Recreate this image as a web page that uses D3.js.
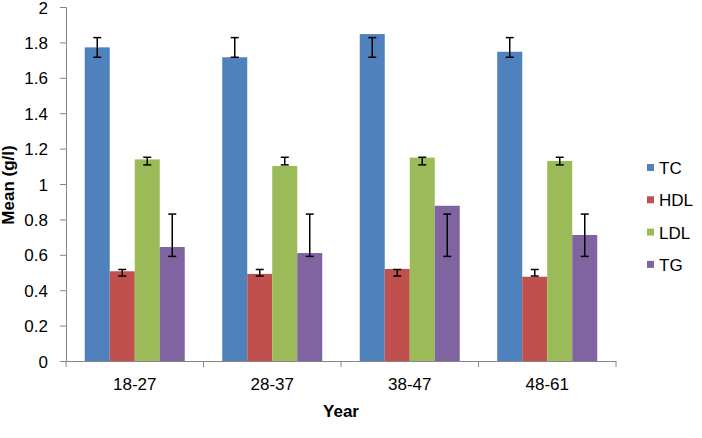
<!DOCTYPE html>
<html>
<head>
<meta charset="utf-8">
<script src="https://cdn.jsdelivr.net/npm/d3@7"></script>
<style>
  body { margin: 0; background: #fff; }
  svg { font-family: "Liberation Sans", Arial, sans-serif; }
</style>
</head>
<body>
<svg id="chart" width="702" height="438"></svg>
<script>
const categories = ['18-27', '28-37', '38-47', '48-61']
const seriesNames = ['TC', 'HDL', 'LDL', 'TG']
const colors = ['#4f81bd', '#c0504d', '#9bbb59', '#8064a2']

const tcValues = [1.772, 1.716, 1.847, 1.747]
const hdlValues = [0.507, 0.492, 0.520, 0.476]
const ldlValues = [1.139, 1.102, 1.149, 1.130]
const tgValues = [0.644, 0.610, 0.877, 0.712]

// error bar ranges as drawn (same in every age group)
const errLow = [1.716, 0.480, 1.108, 0.591]
const errHigh = [1.827, 0.517, 1.151, 0.830]

const yTicks = [0, 0.2, 0.4, 0.6, 0.8, 1, 1.2, 1.4, 1.6, 1.8, 2]

const values = [tcValues, hdlValues, ldlValues, tgValues]

const svg = d3.select('#chart')
const axisColor = '#868686'
const fontSize = 17

const x = d3.scaleBand().domain(categories).range([66, 616]).paddingInner(0).paddingOuter(0)
const x1 = d3.scaleBand().domain(seriesNames).range([0, x.bandwidth()]).paddingOuter(0.75).paddingInner(0)
const y = d3.scaleLinear().domain([0, 2]).range([361, 7])

// bars
categories.forEach((cat, ci) => {
  const g = svg.append('g').attr('transform', 'translate(' + x(cat) + ',0)')
  seriesNames.forEach((s, si) => {
    const v = values[si][ci]
    g.append('rect')
      .attr('x', x1(s))
      .attr('y', y(v))
      .attr('width', x1.bandwidth())
      .attr('height', y(0) - y(v))
      .attr('fill', colors[si])
    const cx = x1(s) + x1.bandwidth() / 2
    const eg = g.append('g').attr('stroke', '#000').attr('stroke-width', 1.5)
    eg.append('line').attr('x1', cx).attr('x2', cx).attr('y1', y(errLow[si])).attr('y2', y(errHigh[si]))
    eg.append('line').attr('x1', cx - 4).attr('x2', cx + 4).attr('y1', y(errLow[si])).attr('y2', y(errLow[si]))
    eg.append('line').attr('x1', cx - 4).attr('x2', cx + 4).attr('y1', y(errHigh[si])).attr('y2', y(errHigh[si]))
  })
})

// y axis
const yAxis = svg.append('g')
  .attr('transform', 'translate(66,0)')
  .call(d3.axisLeft(y).tickValues(yTicks).tickSize(6).tickPadding(12).tickFormat(d => String(d)))
yAxis.select('.domain').attr('stroke', axisColor)
yAxis.selectAll('.tick line').attr('stroke', axisColor)
yAxis.selectAll('text').attr('font-size', fontSize).attr('fill', '#000').attr('dy', '0.36em')
  .attr('font-family', '"Liberation Sans", Arial, sans-serif')

// x axis
const xAxis = svg.append('g')
  .attr('transform', 'translate(0,361)')
  .call(d3.axisBottom(x).tickSize(0).tickPadding(17).tickSizeOuter(0))
xAxis.select('.domain').attr('stroke', axisColor)
xAxis.selectAll('text').attr('font-size', fontSize).attr('fill', '#000')
  .attr('font-family', '"Liberation Sans", Arial, sans-serif')
const bounds = categories.map(c => x(c)).concat([x.range()[1]])
xAxis.selectAll('.bound').data(bounds).enter().append('line')
  .attr('x1', d => d).attr('x2', d => d).attr('y1', 0).attr('y2', 6)
  .attr('stroke', axisColor)

// axis titles
svg.append('text')
  .attr('transform', 'translate(14,185) rotate(-90)')
  .attr('text-anchor', 'middle')
  .attr('font-size', fontSize).attr('font-weight', 'bold')
  .text('Mean (g/l)')
svg.append('text')
  .attr('x', 341).attr('y', 417)
  .attr('text-anchor', 'middle')
  .attr('font-size', fontSize).attr('font-weight', 'bold')
  .text('Year')

// legend
const legend = svg.append('g')
seriesNames.forEach((s, i) => {
  const ly = 168 + i * 32.3
  legend.append('rect').attr('x', 647).attr('y', ly - 4).attr('width', 7).attr('height', 7).attr('fill', colors[i])
  legend.append('text').attr('x', 659).attr('y', ly + 6).attr('font-size', fontSize).text(s)
})
</script>
</body>
</html>
